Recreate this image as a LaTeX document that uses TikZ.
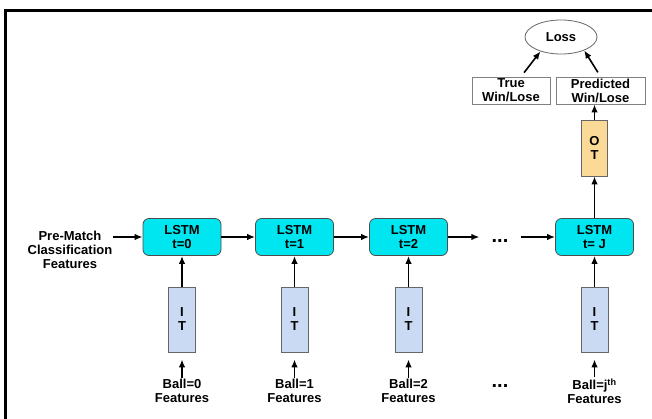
\documentclass[tikz,border=0pt]{standalone}
\usepackage{fontspec}
\setmainfont{Liberation Sans}
\usetikzlibrary{shapes.geometric, arrows.meta}
\definecolor{lstmcyan}{RGB}{0,230,240}
\definecolor{itblue}{RGB}{201,218,242}
\definecolor{otorange}{RGB}{250,218,150}
\newcommand{\figfont}{\fontsize{13}{14}\selectfont\bfseries}
\tikzset{
lstm/.style={draw=black!70, fill=lstmcyan, rounded corners=6pt, line width=0.8pt,
  minimum width=78pt, minimum height=37pt, align=center, font=\figfont},
itbox/.style={draw=black!60, fill=itblue, line width=0.8pt, inner sep=0pt,
  minimum width=27pt, minimum height=65pt, align=center, font=\figfont},
otbox/.style={draw=black!60, fill=otorange, line width=0.8pt, inner sep=0pt,
  minimum width=26pt, minimum height=56pt, align=center, font=\figfont},
outbox/.style={draw=black!50, fill=white, line width=0.8pt, inner sep=1pt,
  minimum height=27pt, align=center, font=\figfont},
lbl/.style={align=center, inner sep=1pt, font=\figfont},
dots/.style={inner sep=12pt, font=\fontsize{20}{20}\selectfont\bfseries},
arr/.style={-{Latex[length=8pt,width=6.5pt]}, line width=1.6pt}
}
\begin{document}
\begin{tikzpicture}[x=1pt,y=-1pt]
\useasboundingbox (0,0) rectangle (652,418);
% frame
\draw[line width=3pt] (5,419) -- (5,10) -- (653,10);

% recurrent chain
\node[lbl] (pre) at (70,250) {Pre-Match\\Classification\\Features};
\node[lstm] (l0) at (182,237) {LSTM\\t=0};
\node[lstm] (l1) at (294.5,237) {LSTM\\t=1};
\node[lstm] (l2) at (408.5,237) {LSTM\\t=2};
\node[dots] (d1) at (500,241) {...};
\node[lstm] (lJ) at (594.5,237) {LSTM\\t= J};

% inputs
\node[itbox] (i0) at (182,319.5) {I\\T};
\node[itbox] (i1) at (294.5,319.5) {I\\T};
\node[itbox] (i2) at (408.5,319.5) {I\\T};
\node[itbox] (iJ) at (594.5,319.5) {I\\T};
\node[lbl] (b0) at (182,391) {Ball=0\\Features};
\node[lbl] (b1) at (294.5,391) {Ball=1\\Features};
\node[lbl] (b2) at (408.5,391) {Ball=2\\Features};
\node[dots] (d2) at (500,386) {...};
\node[lbl] (bJ) at (594.5,391) {Ball=j\textsuperscript{th}\\Features};

% output and loss
\node[otbox] (ot) at (594.5,148) {O\\T};
\node[outbox, minimum width=89pt] (pred) at (600.5,90.5) {Predicted\\Win/Lose};
\node[outbox, minimum width=78pt] (tru) at (511,90.5) {True\\Win/Lose};
\node[draw=black!60, line width=0.8pt, ellipse, minimum width=72pt, minimum height=34pt, font=\figfont] (loss) at (561,37) {Loss};

\draw[arr] (pre.east |- l0.west) -- (l0.west);
\draw[arr] (l0) -- (l1);
\draw[arr] (l1) -- (l2);
\draw[arr] (l2.east) -- (l2.east -| d1.west);
\draw[arr] (lJ.west -| d1.east) -- (lJ.west);

\draw[arr] (i0) -- (l0);
\draw[arr] (i1) -- (l1);
\draw[arr] (i2) -- (l2);
\draw[arr] (iJ) -- (lJ);
\draw[arr, shorten >=7pt] (b0) -- (i0);
\draw[arr, shorten >=7pt] (b1) -- (i1);
\draw[arr, shorten >=7pt] (b2) -- (i2);
\draw[arr, shorten >=7pt] (bJ) -- (iJ);

\draw[arr] (lJ) -- (ot);
\draw[arr] (ot) -- (pred.south -| ot);
\draw[arr, shorten <=5pt] ([xshift=10pt]tru.north) -- (loss.215);
\draw[arr, shorten <=5pt] (pred.north) -- (loss.330);
\end{tikzpicture}
\end{document}
